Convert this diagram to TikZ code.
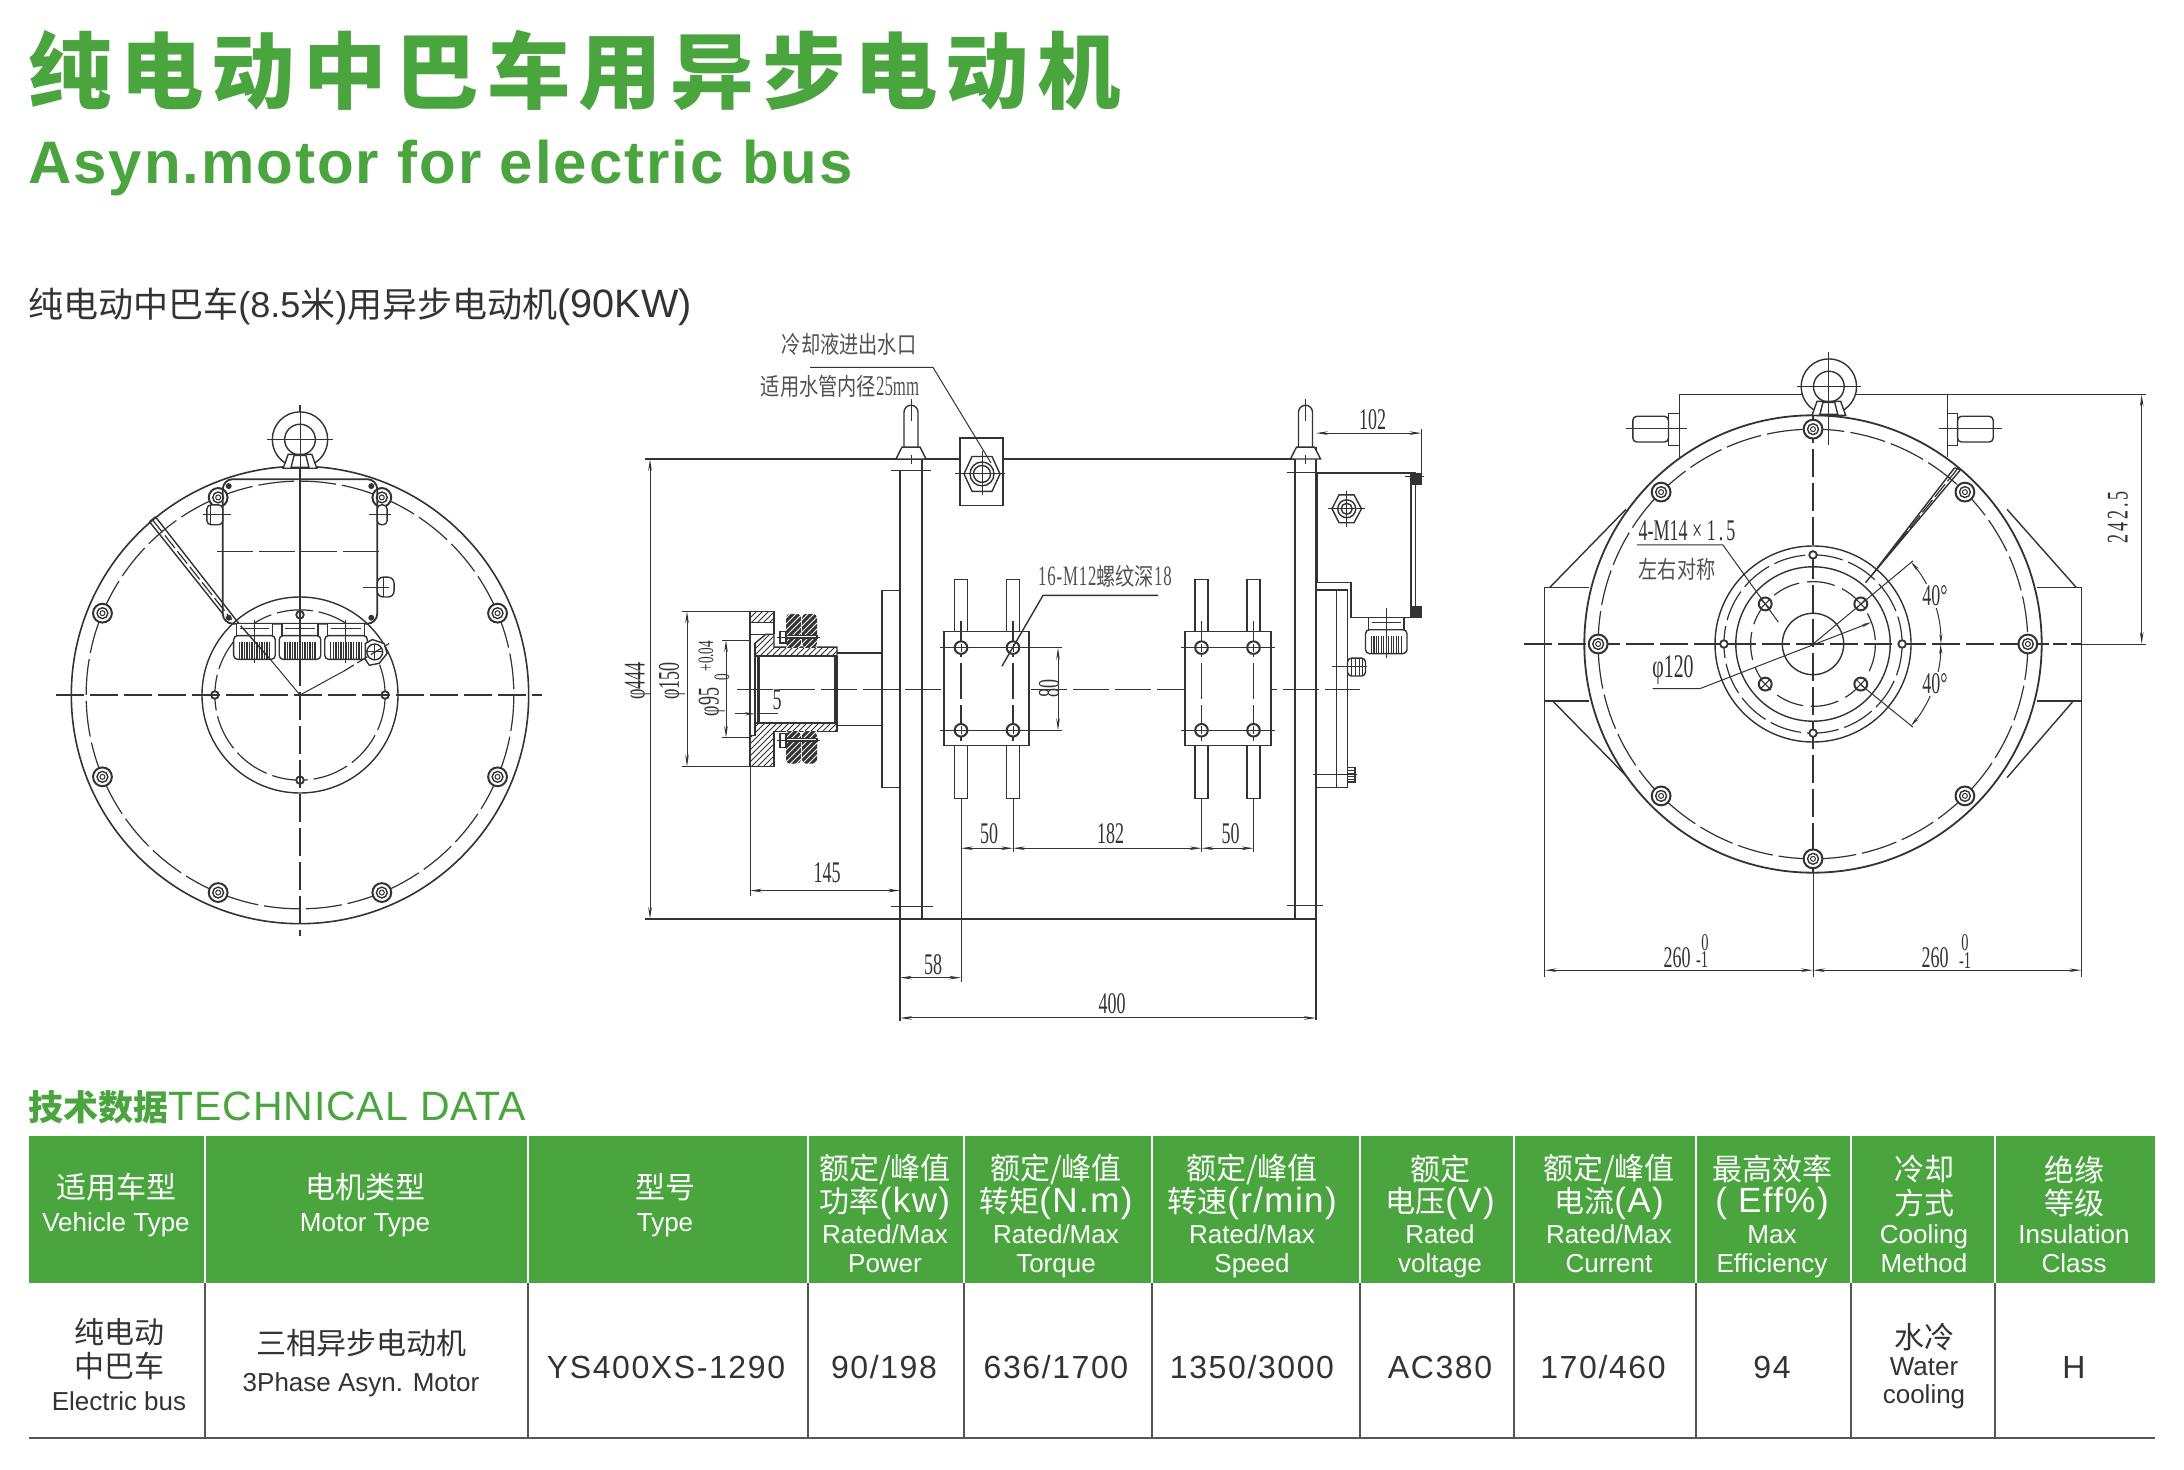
\documentclass[tikz,border=0pt]{standalone}
\usepackage{fontspec}
\usetikzlibrary{arrows.meta,patterns}
\setmainfont{Liberation Sans}
\newfontfamily\zh{Noto Sans CJK SC}
\newfontfamily\titlezh[LetterSpace=10]{Noto Sans CJK SC}
\newfontfamily\subt[LetterSpace=3.2]{Liberation Sans}
\newfontfamily\tds[LetterSpace=2.2]{Liberation Sans}
\newfontfamily\hl[LetterSpace=4]{Liberation Sans}
\newfontfamily\numf[LetterSpace=5]{Liberation Sans}
\newfontfamily\cad[FakeStretch=0.6]{Liberation Serif}
\newfontfamily\cads[FakeStretch=0.6,LetterSpace=10]{Liberation Serif}
\newfontfamily\cadm[FakeStretch=0.6,LetterSpace=3]{Liberation Serif}
\newfontfamily\cadzh[FakeStretch=0.8]{Noto Sans CJK SC}
\definecolor{brand}{HTML}{4AA53F}
\definecolor{ink}{HTML}{333333}
\definecolor{rule}{HTML}{555555}
\newcommand\fs[1]{\fontsize{#1}{#1}\selectfont}
\tikzset{
  ln/.style={draw=ink,line width=0.7pt},
  ctr/.style={draw=ink,line width=0.6pt,dash pattern=on 18pt off 3pt},
  thinl/.style={draw=ink,line width=0.5pt},
  dimn/.style={draw=ink,line width=0.5pt,{Stealth[length=6pt,width=1.8pt]}-{Stealth[length=6pt,width=1.8pt]}},
  cadt/.style={text=ink,inner sep=0pt,font=\cad\fs{15}},
  cadz/.style={text=ink!85,inner sep=0pt,font=\cadzh\fs{12}},
  hcn/.style={text=white,inner sep=0pt,font=\zh\fs{15}},
  hen/.style={text=white,inner sep=0pt,font=\fs{13},text height=9.5pt,text depth=2.5pt},
  rcn/.style={text=ink,inner sep=0pt,font=\zh\fs{15}},
  ren/.style={text=ink,inner sep=0pt,font=\fs{13},text height=9.5pt,text depth=2.5pt},
  rnum/.style={text=ink,inner sep=0pt,font=\numf\fs{16}},
}
% bolt with concentric rings and crossing centre lines
\newcommand\boltm[2]{%
  \draw[ln,fill=white,line width=1pt] (#1,#2) circle[radius=9.5];
  \draw[ln] (#1,#2) circle[radius=5.5];
  \draw[thinl] (#1,#2) circle[radius=2.5];}
\newcommand\smallh[2]{\draw[ln,fill=white,line width=0.9pt] (#1,#2) circle[radius=3.8];}
\newcommand\sidehole[2]{%
  \draw[ln,fill=white,line width=1pt] (#1,#2) circle[radius=6.3];
  \draw[thinl] (#1-4,#2) -- (#1+4,#2) (#1,#2-4) -- (#1,#2+4);
  \draw[thinl] (#1-11,#2) -- (#1+11,#2);}
\newcommand\xhole[2]{%
  \begin{scope}[shift={(#1,#2)}]
  \draw[ln,fill=white,line width=1pt] (0,0) circle[radius=6.5];
  \draw[thinl] (-4.5,-4.5) -- (4.5,4.5) (-4.5,4.5) -- (4.5,-4.5);
  \end{scope}}
% gland: x1 x2 ycap ybody ybottom
\newcommand\gland[5]{%
  \draw[ln,fill=white] (#1+3,#3) rectangle (#2-3,#4);
  \draw[ln] (#1+6,#3+5) -- (#2-6,#3+5);
  \draw[ln,fill=white,rounded corners=2] (#1,#4) rectangle (#2,#5);
  \foreach \k in {0.14,0.2,...,0.88}{\draw[thinl,line width=0.7pt] ({#1+\k*(#2-#1)},#4+6) -- ({#1+\k*(#2-#1)},#5);}}
% eye bolt
\newcommand\eyebolt[2]{%
  \draw[ln,fill=white] (#1,#2) circle[radius=28];
  \draw[ln,fill=white] (#1,#2) circle[radius=15.5];
  \draw[ln,fill=white] (#1-17,#2+29) -- (#1-12,#2+15) -- (#1+12,#2+15) -- (#1+17,#2+29) -- cycle;
  \draw[ln,fill=white] (#1-9,#2+28) -- (#1-6,#2+16) -- (#1+6,#2+16) -- (#1+9,#2+28) -- cycle;}
% side eye bolt on the plate
\newcommand\sidebolt[2]{%
  \draw[ln] (#1-7,#2-12) -- (#1-7,#2-47) arc[start angle=180,end angle=360,radius=7] -- (#1+7,#2-12);
  \draw[ln,fill=white] (#1-15,#2) -- (#1-9,#2-12) -- (#1+9,#2-12) -- (#1+15,#2) -- cycle;
  \draw[thinl] (#1,#2-60) -- (#1,#2-38) (#1,#2-4) -- (#1,#2+5);}
% mounting block
\newcommand\mblock[4]{%
  \draw[ln,fill=white] (#3-6.5,580) rectangle (#3+6.5,632.5);
  \draw[ln,fill=white] (#4-6.5,580) rectangle (#4+6.5,632.5);
  \draw[ln,fill=white] (#3-6.5,747) rectangle (#3+6.5,800);
  \draw[ln,fill=white] (#4-6.5,747) rectangle (#4+6.5,800);
  \draw[ln,fill=white] (#1,632.5) rectangle (#2,747);
  \draw[ctr] (#3,622) -- (#3,747) (#4,622) -- (#4,747);
  \sidehole{#3}{648.5}\sidehole{#3}{731.5}\sidehole{#4}{648.5}\sidehole{#4}{731.5}
  \draw[thinl] (#1-4,648.5) -- (#2+4,648.5) (#1-4,731.5) -- (#2+4,731.5);}
% header column: key x line1 line2 line3 line4
\newcommand\hdr[6]{%
  \node[hcn] (#1a) at (#2,1169.5) {#3};
  \node[hcn] (#1b) at (#2,1203) {#4};
  \node[hen] (#1c) at (#2,1236) {#5};
  \node[hen] (#1d) at (#2,1265) {#6};}
\newcommand\hlat[1]{{\hl\fs{17.5}#1}}
\begin{document}
\begin{tikzpicture}[x=0.5pt,y=-0.5pt]
\useasboundingbox[fill=white] (0,0) rectangle (2184,1470);

% ---------- titles
\node[anchor=west,inner sep=0pt,text=brand,font=\titlezh\bfseries\fs{41.7}] (title) at (28,71) {纯电动中巴车用异步电动机};
\node[anchor=west,inner sep=0pt,text=brand,font=\subt\bfseries\fs{30}] (subtitle) at (28,168) {Asyn.motor for electric bus};
\node[anchor=west,inner sep=0pt,text=ink,font=\fs{18}] (heading) at (28,307) {{\zh\fs{17.5}纯电动中巴车}(8.5{\zh\fs{17.5}米}){\zh\fs{17.5}用异步电动机}{\fs{19.8}(90KW)}};
\node[anchor=west,inner sep=0pt,text=brand,font=\tds\fs{20.5}] (techdata) at (28,1107) {{\zh\bfseries\fs{17.5}技术数据}TECHNICAL DATA};

% ---------- left view
\begin{scope}[shift={(300,695)},scale=0.99]
  \draw[ln,line width=0.8pt] (0,0) circle[radius=231];
  \draw[ctr] (0,0) circle[radius=216];
  \draw[ln] (0,0) circle[radius=99];
  \draw[ctr] (0,0) circle[radius=86];
  \foreach \a in {22.5,67.5,...,337.5}{\boltm{{216*cos(\a)}}{{216*sin(\a)}}}
  \smallh{-86}{0}\smallh{86}{0}\smallh{0}{86}\smallh{0}{-81}
  % strip
  \draw[ln] (-152,-175) -- (-78,-82) (-146,-180) -- (-60,-70);
  \draw[ctr,dash pattern=on 8pt off 2pt] (-149,-177) -- (-69,-76);
  \draw[ln] (-152,-175) -- (-146,-180);
  % junction box
  \draw[ln,line width=0.9pt,rounded corners=5] (-78,-218) rectangle (78,-72);
  \foreach \p in {(-72,-211),(72,-211),(-72,-78),(72,-78)}{\fill[ink] \p circle[radius=3];}
  \draw[ctr] (-84,-145) -- (85,-145);
  % side plugs
  \draw[ln,fill=white,rounded corners=2] (-94,-192) rectangle (-78,-172);
  \draw[thinl] (-98,-182) -- (-70,-182);
  \draw[thinl] (-90,-192) -- (-90,-172);
  \draw[ln,fill=white,rounded corners=2] (78,-192) rectangle (88,-172);
  \draw[thinl] (70,-182) -- (92,-182);
  \draw[ln,fill=white,rounded corners=3] (78,-119) rectangle (95,-99);
  \draw[thinl] (64,-109) -- (90,-109) (84,-119) -- (84,-99);
  % glands
  \gland{-67}{-25}{-72}{-60}{-36}
  \gland{-21}{21}{-72}{-60}{-36}
  \gland{25}{68}{-72}{-60}{-36}
  \draw[thinl] (-46,-76) -- (-46,-32) (46,-76) -- (46,-32);
  % cooling port
  \draw[ln,fill=white] (66,-36) -- (66,-52) -- (73,-56) -- (85,-52) -- (88,-42) -- (80,-32) -- (70,-30) -- cycle;
  \draw[ln,fill=white] (75.5,-43.5) circle[radius=8];
  \draw[thinl] (68,-43.5) -- (83,-43.5) (75.5,-51) -- (75.5,-36);
  % centre lines
  \draw[thinl] (0,0) -- (-30,-36);
  \draw[thinl] (0,0) -- (44,-24);
  \draw[ctr,dash pattern=on 6pt off 2pt] (44,-24) -- (90,-52);
  \draw[ln] (-60,-70) -- (-30,-36);
  \draw[ctr,dash pattern=on 14pt off 3pt] (-246,0) -- (244,0);
  \draw[ln,line width=0.8pt] (0,-293) -- (0,-72);
  \draw[ctr,dash pattern=on 14pt off 3pt] (0,-72) -- (0,243);
  % eye bolt
  \eyebolt{0}{-258}
  \draw[thinl] (-33,-258) -- (33,-258) (0,-292) -- (0,-222);
\end{scope}

% ---------- side view
\begin{scope}[shift={(0,459)},yscale=0.9955,shift={(0,-459)}]
% outline and plates
\draw[ln] (645,459) -- (960,459) (1003,459) -- (1296,459);
\draw[ln] (645,921) -- (1316,921);
\draw[ln,line width=0.9pt] (900,471) -- (900,1024) (922,459) -- (922,921);
\draw[ln,line width=0.9pt] (1295,459) -- (1295,921) (1316,447) -- (1316,1023);
\draw[thinl] (891,471) -- (931,471) (891,909) -- (933,909);
\draw[thinl] (1287,473) -- (1316,473) (1287,908) -- (1323,908);
\sidebolt{911}{459}
\sidebolt{1305.5}{459}
% round flange and shaft
\draw[ln] (900,591) -- (882,591) -- (882,789) -- (900,789);
\draw[ln] (837,654) -- (882,654) (837,726.5) -- (882,726.5);
% hatched hub
\draw[ln,pattern=north east lines,pattern color=ink] (750,612) rectangle (774,623);
\draw[ln,pattern=north east lines,pattern color=ink] (755,657) -- (755,644) -- (766,635) -- (774,635) -- (774,648) -- (837,648) -- (837,657) -- cycle;
\draw[ln,pattern=north east lines,pattern color=ink] (755,724) -- (837,724) -- (837,733) -- (774,733) -- (774,768) -- (750,768) -- (750,737) -- (755,737) -- cycle;
\draw[ln] (750,612) -- (750,768) (774,623) -- (774,635);
\draw[ln] (755,644) -- (755,737);
\draw[ln] (750,635) -- (766,635);
\draw[ln,line width=0.9pt] (755,657) -- (837,657) (755,724) -- (837,724);
\draw[ink,line width=1.6pt] (758.5,657) -- (758.5,724);
\draw[ink,line width=1.6pt] (836,657) -- (836,724);
% clamp rings
\foreach \xa/\xb in {786/801,802/817}{
  \foreach \ya/\yb in {614.5/648,733/765}{
    \fill[ink,rounded corners=2] (\xa,\ya) rectangle (\xb,\yb);
    \path[pattern=north east lines,pattern color=white] (\xa,\ya) rectangle (\xb,\yb);}}
\draw[ln,fill=white] (780,632) rectangle (786,644);
\draw[ln,fill=white] (780,735) rectangle (786,749);
\draw[ln,fill=white] (786,636.5) rectangle (817,639.5);
\draw[ln,fill=white] (786,740) rectangle (817,743);
\draw[thinl] (777,638) -- (820,638) (777,741.5) -- (820,741.5);
% centre line
\draw[ctr] (737,690.5) -- (1360,690.5);
% mounting blocks
\mblock{944}{1029}{961}{1013}
\mblock{1185}{1271}{1201.5}{1253.5}
% coolant port
\draw[ln,fill=white] (960,438) rectangle (1003,506);
\draw[ln] (964,474) -- (972,456.5) -- (992,456.5) -- (1000,474) -- (992,491.5) -- (972,491.5) -- cycle;
\draw[ln] (982,474) circle[radius=12];
\draw[ln] (982,474) circle[radius=8.5];
\draw[thinl] (955,474) -- (1005,474) (982,451) -- (982,495);
% right side: junction box and rear cover
\draw[ln,line width=1.2pt] (1317,473) -- (1317,583);
\draw[ln] (1316,473) -- (1411,473);
\draw[ln,fill=white,line width=0.9pt] (1411,473) rectangle (1415.5,618);
\fill[ink] (1412,473) rectangle (1421.5,485);
\fill[ink] (1412,607) rectangle (1421.5,618.5);
\draw[thinl] (1405,477) -- (1424,477);
\draw[ln] (1316,583) -- (1351,583) -- (1351,618.5) -- (1411,618.5);
\draw[ln] (1316,590.5) -- (1347.5,590.5) -- (1347.5,789) -- (1316,789);
\draw[ln] (1336.5,590.5) -- (1336.5,789);
\draw[ln,fill=white] (1332,509) -- (1339,495) -- (1354,495) -- (1361.5,509) -- (1354,523) -- (1339,523) -- cycle;
\draw[ln] (1346.7,509) circle[radius=9];
\draw[ln] (1346.7,509) circle[radius=5.5];
\draw[thinl] (1328,509) -- (1365,509) (1346.7,491) -- (1346.7,527);
\gland{1365.5}{1407}{618.5}{630.5}{654.5}
\draw[thinl] (1386.5,609) -- (1386.5,659);
\draw[ln,fill=white,rounded corners=2] (1347.5,659) rectangle (1365.5,677);
\foreach \x in {1351,1355,1359,1362}{\draw[thinl] (\x,659) -- (\x,677);}
\draw[thinl] (1332,667.5) -- (1367,667.5);
\draw[ln,fill=white] (1347.5,769) rectangle (1355,783.5);
\foreach \y in {772,775,778,781}{\draw[thinl] (1347.5,\y) -- (1355,\y);}
\draw[thinl] (1312.5,776) -- (1356.5,776);

% dimensions of the side view
\draw[dimn] (650,459) -- (650,921);
\draw[thinl] (682,612) -- (750,612) (682,768) -- (750,768);
\draw[dimn] (687,612) -- (687,768);
\draw[thinl] (722,641) -- (750,641) (722,739) -- (750,739);
\draw[dimn] (726,641) -- (726,739);
\draw[thinl,-{Stealth[length=5pt,width=1.6pt]}] (735,715) -- (755,715);
\draw[thinl] (760,715) -- (778,715);
\draw[thinl] (750,768) -- (750,898);
\draw[dimn] (750,892.5) -- (900,892.5);
\draw[thinl] (961,800) -- (961,984) (1013,800) -- (1013,854);
\draw[thinl] (1201.5,800) -- (1201.5,854) (1253.5,800) -- (1253.5,854);
\draw[dimn] (900,980) -- (961,980);
\draw[dimn] (961,850) -- (1013,850);
\draw[dimn] (1013,850) -- (1201.5,850);
\draw[dimn] (1201.5,850) -- (1253.5,850);
\draw[dimn] (900,1020.5) -- (1316,1020.5);
\draw[thinl] (1029,648.5) -- (1062,648.5) (1029,731.5) -- (1062,731.5);
\draw[dimn] (1058,648.5) -- (1058,731.5);
\draw[thinl] (1421.5,429) -- (1421.5,480);
\draw[dimn] (1316,433) -- (1421.5,433);
% leaders
\draw[thinl] (810,367) -- (933,367) -- (991,463);
\draw[thinl,line width=0.7pt] (1158,596) -- (1043,596) -- (1002,667);
% texts of the side view
\node[cadz] (cool1) at (849,344) {冷却液进出水口};
\node[cadz] (cool2) at (840,386) {适用水管内径{\cad\fs{14}25mm}};
\node[cadz] (thread) at (1105,577) {{\cadm\fs{14}16-M12}螺纹深{\cadm\fs{14}18}};
\node[cadt,rotate=90] (d444) at (638,682) {φ444};
\node[cadt,rotate=90] (d150) at (672,682) {φ150};
\node[cadt,rotate=90] (d95) at (712,703) {φ95};
\node[cadt,rotate=90,font=\cad\fs{11}] (d95p) at (706,657) {+0.04};
\node[cadt,rotate=90,font=\cad\fs{11}] (d95m) at (722,678) {0};
\node[cadt] (d5) at (777,701) {5};
\node[cadt] (d145) at (827,874.5) {145};
\node[cadt] (d58) at (933,967) {58};
\node[cadt] (d50a) at (989,835.5) {50};
\node[cadt] (d182) at (1110.5,835.5) {182};
\node[cadt] (d50b) at (1230.5,835.5) {50};
\node[cadt] (d400) at (1112,1006) {400};
\node[cadt,rotate=90] (d80) at (1049,690) {80};
\node[cadt] (d102) at (1372.5,419) {102};
\end{scope}

% ---------- right view
\begin{scope}[shift={(1813,644)},scale=0.99]
  % feet
  \draw[ln] (-226,-57) -- (-271,-57) -- (-271,57.5) -- (-226,57.5);
  \draw[ln] (226,-57) -- (271,-57) -- (271,57.5) -- (226,57.5);
  \draw[ln] (-266,-57) -- (-189,-136) (266,-57) -- (196,-136);
  \draw[ln] (-263,57.5) -- (-187,135) (263,57.5) -- (196,135);
  % top box
  \draw[ln] (-135,-189) -- (-135,-252) -- (136,-252) -- (136,-189);
  \draw[ln,fill=white] (-146,-233) rectangle (-135,-200.5);
  \draw[ln,fill=white,rounded corners=2] (-182,-230) rectangle (-146,-204);
  \draw[ln,fill=white] (136,-233) rectangle (146,-200.5);
  \draw[ln,fill=white,rounded corners=2] (146,-230) rectangle (182,-204);
  \draw[thinl] (-189,-217.5) -- (-127,-217.5) (127,-217.5) -- (190.5,-217.5);
  % discs
  \draw[ln,line width=0.9pt,fill=white] (0,0) circle[radius=231];
  \draw[ctr] (0,0) circle[radius=217];
  \draw[ln] (0,0) circle[radius=99];
  \draw[ctr,dash pattern=on 16pt off 3pt] (0,0) circle[radius=90];
  \draw[ln] (0,0) circle[radius=78];
  \draw[ctr,dash pattern=on 14pt off 4pt] (0,0) circle[radius=63];
  \draw[ln] (0,0) circle[radius=31];
  % strip
  \draw[ln] (149,-176) -- (53,-62) (143,-178) -- (65,-77);
  \draw[ctr,dash pattern=on 8pt off 2pt] (146,-177) -- (59,-69);
  \draw[ln] (143,-178) -- (149,-176);
  % centre lines
  \draw[ctr,dash pattern=on 14pt off 3pt] (-292,0) -- (224,0);
  \draw[ctr,dash pattern=on 7pt off 2pt] (224,0) -- (271,0);
  \draw[thinl] (271,0) -- (336,0);
  \draw[ctr,dash pattern=on 14pt off 3pt] (0,-231) -- (0,231);
  \draw[thinl] (0,231) -- (0,336);
  \foreach \a in {0,45,...,315}{\boltm{{217*cos(\a)}}{{217*sin(\a)}}}
  \foreach \a in {0,90,180,270}{\smallh{{90*cos(\a)}}{{90*sin(\a)}}}
  \foreach \a in {40,140,220,320}{\xhole{{63*cos(\a)}}{{63*sin(\a)}}}
  % eye bolt
  \eyebolt{16}{-260}
  \draw[thinl] (16,-295) -- (16,-201) (-16,-260) -- (48,-260);
  % angles
  \draw[thinl] (0,0) -- (101,-84);
  \draw[thinl] (48,41) -- (101,84);
  \draw[thinl,{Stealth[length=5pt,width=1.6pt]}-{Stealth[length=5pt,width=1.6pt]}] (99,-83) arc[start angle=-40,end angle=0,radius=129];
  \draw[thinl,{Stealth[length=5pt,width=1.6pt]}-{Stealth[length=5pt,width=1.6pt]}] (129,0) arc[start angle=0,end angle=40,radius=129];
  % leaders
  \draw[thinl] (-178,-100) -- (-91,-100) -- (-35,-22);
  \draw[thinl,-{Stealth[length=5pt,width=1.6pt]}] (-162,45) -- (-114,45) -- (59,-22);
  % dimensions
  \draw[thinl] (136,-252) -- (336,-252) (271,0) -- (336,0);
  \draw[dimn] (332,-252) -- (332,0);
  \draw[thinl] (-271,57.5) -- (-271,336) (271,57.5) -- (271,336);
  \draw[dimn] (-271,329.5) -- (0,329.5);
  \draw[dimn] (0,329.5) -- (271,329.5);
\end{scope}
\node[cadt,fill=white,inner sep=1pt] (a40a) at (1935,596) {40°};
\node[cadt,fill=white,inner sep=1pt] (a40b) at (1935,684) {40°};
\node[cadt] (m14) at (1687,531) {4-M14 × {\cads 1.5}};
\node[cadz] (sym) at (1677,569) {左右对称};
\node[cadt,font=\cad\fs{16.5}] (d120) at (1673,670) {φ120};
\node[cadt,rotate=90,font=\cads\fs{15}] (d242) at (2118,517.5) {242.5};
\node[cadt] (d260a) at (1677,958) {260};
\node[cadt,font=\cad\fs{12}] (d260a0) at (1705,943) {0};
\node[cadt,font=\cad\fs{12}] (d260a1) at (1702,960) {-1};
\node[cadt] (d260b) at (1935,958) {260};
\node[cadt,font=\cad\fs{12}] (d260b0) at (1965,943) {0};
\node[cadt,font=\cad\fs{12}] (d260b1) at (1965,961) {-1};

% ---------- table
\fill[brand] (29,1136) rectangle (2155,1283);
\foreach \x in {205,528,808,964,1152,1360,1514,1696,1851,1995}{
  \draw[white,line width=0.7pt] (\x,1136) -- (\x,1283);
  \draw[rule,line width=0.6pt] (\x,1283) -- (\x,1438);}
\draw[rule,line width=1.1pt] (29,1438) -- (2155,1438);
\node[hcn] (h1a) at (116,1187) {适用车型};
\node[hen] (h1b) at (116,1224) {Vehicle Type};
\node[hcn] (h2a) at (365,1187) {电机类型};
\node[hen] (h2b) at (365,1224) {Motor Type};
\node[hcn] (h3a) at (665,1187) {型号};
\node[hen] (h3b) at (665,1224) {Type};
\hdr{h4}{885}{额定/峰值}{功率\hlat{(kw)}}{Rated/Max}{Power}
\hdr{h5}{1056}{额定/峰值}{转矩\hlat{(N.m)}}{Rated/Max}{Torque}
\hdr{h6}{1252}{额定/峰值}{转速\hlat{(r/min)}}{Rated/Max}{Speed}
\hdr{h7}{1440}{额定}{电压\hlat{(V)}}{Rated}{voltage}
\hdr{h8}{1609}{额定/峰值}{电流\hlat{(A)}}{Rated/Max}{Current}
\hdr{h9}{1772}{最高效率}{\hlat{( Eff\%)}}{Max}{Efficiency}
\hdr{h10}{1924}{冷却}{方式}{Cooling}{Method}
\hdr{h11}{2074}{绝缘}{等级}{Insulation}{Class}
\node[rcn] (r1a) at (119,1332) {纯电动};
\node[rcn] (r1b) at (119,1366.5) {中巴车};
\node[ren] (r1c) at (119,1403) {Electric bus};
\node[rcn] (r2a) at (361,1343) {三相异步电动机};
\node[ren] (r2b) at (361,1384) {3Phase Asyn. Motor};
\node[rnum] (r3) at (666,1367) {YS400XS-1290};
\node[rnum] (r4) at (884,1367) {90/198};
\node[rnum] (r5) at (1056,1367) {636/1700};
\node[rnum] (r6) at (1252,1367) {1350/3000};
\node[rnum] (r7) at (1440,1367) {AC380};
\node[rnum] (r8) at (1603,1367) {170/460};
\node[rnum] (r9) at (1772,1367) {94};
\node[rcn] (r10a) at (1924,1337) {水冷};
\node[ren] (r10b) at (1924,1368) {Water};
\node[ren] (r10c) at (1924,1396) {cooling};
\node[rnum] (r11) at (2074,1367) {H};
\end{tikzpicture}
\end{document}
